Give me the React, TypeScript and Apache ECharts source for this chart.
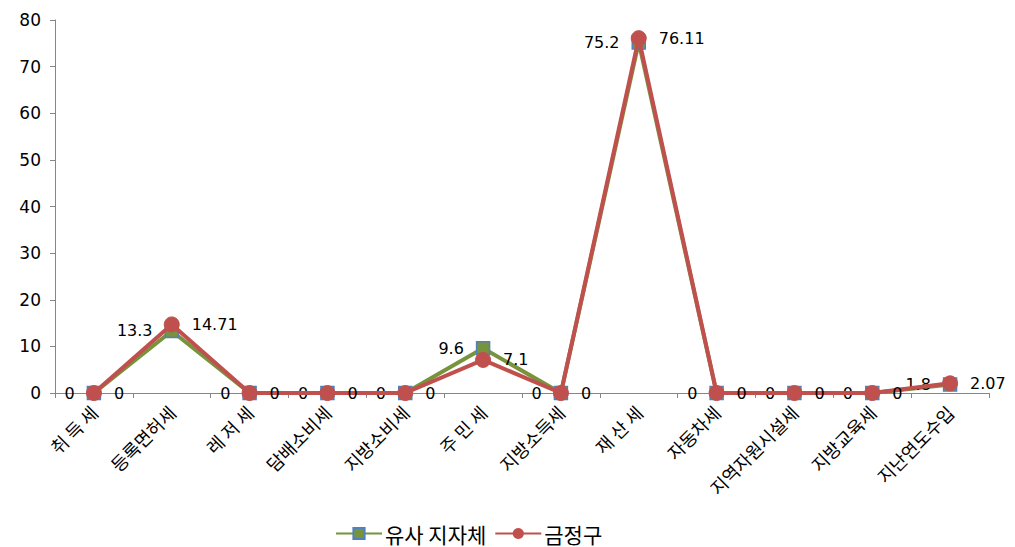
import React, { useEffect, useRef } from "react";
import * as echarts from "echarts";

const categories = ["취 득 세", "등록면허세", "레 저 세", "담배소비세", "지방소비세", "주 민 세", "지방소득세", "재 산 세", "자동차세", "지역자원시설세", "지방교육세", "지난연도수입"];
const similarValues = [0, 13.3, 0, 0, 0, 9.6, 0, 75.2, 0, 0, 0, 1.8];
const geumjeongValues = [0, 14.71, 0, 0, 0, 7.1, 0, 76.11, 0, 0, 0, 2.07];
const seriesNames = ["유사 지자체", "금정구"];
const yTicks = { min: 0, max: 80, interval: 10 };

const FONT = "'Noto Sans CJK KR', 'Noto Sans', sans-serif";
const NUM_FONT = "'DejaVu Sans', sans-serif";

export default function App() {
  const ref = useRef<HTMLDivElement>(null);
  useEffect(() => {
    if (!ref.current) return;
    const chart = echarts.init(ref.current, undefined, { renderer: "svg" });
    chart.setOption({
      animation: false,
      backgroundColor: "#ffffff",
      grid: { left: 55, right: 26, top: 20, bottom: 154, containLabel: false },
      legend: {
        top: 518,
        left: 330,
        itemWidth: 46,
        itemHeight: 14,
        itemGap: 8,
        textStyle: { fontFamily: FONT, fontSize: 21, color: "#000", padding: [0, 0, 0, -2] },
        data: seriesNames,
      },
      xAxis: {
        type: "category",
        data: categories,
        boundaryGap: true,
        axisLine: { lineStyle: { color: "#868686", width: 1 } },
        axisTick: { show: true, alignWithLabel: false, length: 5, lineStyle: { color: "#868686" } },
        axisLabel: { rotate: 45, fontFamily: FONT, fontSize: 18, color: "#000", margin: 16, interval: 0 },
      },
      yAxis: {
        type: "value",
        min: yTicks.min,
        max: yTicks.max,
        interval: yTicks.interval,
        axisLine: { show: true, lineStyle: { color: "#868686", width: 1 } },
        axisTick: { show: true, inside: false, length: 5, lineStyle: { color: "#868686" } },
        splitLine: { show: false },
        axisLabel: { fontFamily: NUM_FONT, fontSize: 17, color: "#000", margin: 14 },
      },
      series: [
        {
          name: seriesNames[0],
          type: "line",
          data: similarValues,
          symbol: "rect",
          symbolSize: 13,
          lineStyle: { color: "#77933C", width: 4 },
          itemStyle: { color: "#77933C", borderColor: "#4F81BD", borderWidth: 1.5 },
          label: {
            show: true,
            position: "left",
            distance: 12,
            fontFamily: NUM_FONT,
            fontSize: 16,
            color: "#000",
          },
          z: 2,
        },
        {
          name: seriesNames[1],
          type: "line",
          data: geumjeongValues,
          symbol: "circle",
          symbolSize: 15,
          lineStyle: { color: "#C0504D", width: 4 },
          itemStyle: { color: "#C0504D", borderColor: "#C0504D" },
          label: {
            show: true,
            position: "right",
            distance: 12,
            fontFamily: NUM_FONT,
            fontSize: 16,
            color: "#000",
          },
          z: 3,
        },
      ],
    });
    return () => chart.dispose();
  }, []);
  return <div ref={ref} style={{ width: 1015, height: 547, position: "absolute", left: 0, top: 0 }} />;
}
